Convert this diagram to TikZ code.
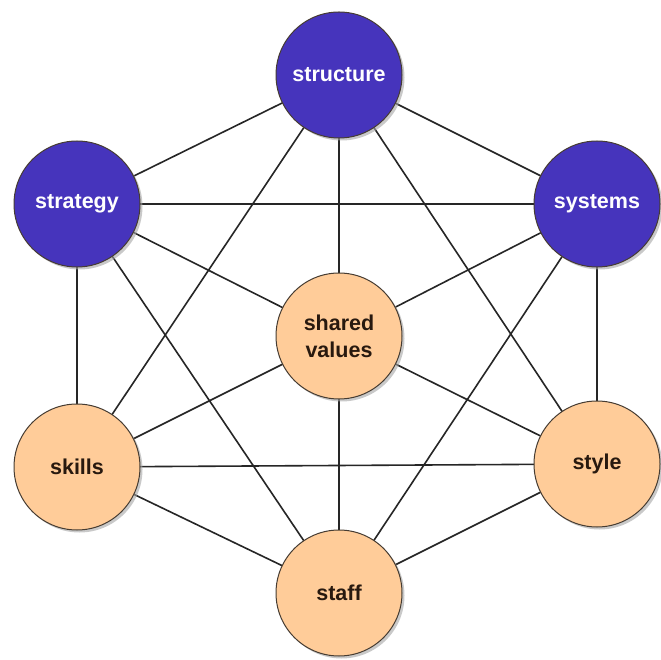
\documentclass[tikz,border=0pt]{standalone}
\usepackage{fontspec}
\setmainfont{Liberation Sans}
\usetikzlibrary{shadows}
\definecolor{bluefill}{RGB}{70,52,188}
\definecolor{orangefill}{RGB}{255,204,153}
\definecolor{rimcol}{RGB}{70,60,50}
\definecolor{darktext}{RGB}{40,25,15}
\begin{document}
\begin{tikzpicture}[x=1pt,y=1pt,
  base/.style={circle, minimum size=126pt, inner sep=0pt, draw=rimcol, line width=1pt,
    align=center, font=\fontsize{21.5}{27}\selectfont\bfseries,
    drop shadow={shadow xshift=2.5pt, shadow yshift=-2.5pt, fill=black!35, opacity=0.6}},
  bluec/.style={base, fill=bluefill, text=white},
  orangec/.style={base, fill=orangefill, text=darktext},
  link/.style={line width=1.6pt, draw=black!85}]
\useasboundingbox (0,0) rectangle (661,659);
\fill[white] (0,0) rectangle (661,659);
\coordinate (pstructure) at (339,584);
\coordinate (pstrategy) at (77,455);
\coordinate (psystems) at (597,455);
\coordinate (pshared) at (339,323);
\coordinate (pskills) at (77,192);
\coordinate (pstyle) at (597,195);
\coordinate (pstaff) at (339,66);
\draw[link] (pstructure) -- (pstrategy);
\draw[link] (pstructure) -- (psystems);
\draw[link] (pstructure) -- (pshared);
\draw[link] (pstructure) -- (pskills);
\draw[link] (pstructure) -- (pstyle);
\draw[link] (pstrategy) -- (psystems);
\draw[link] (pstrategy) -- (pshared);
\draw[link] (pstrategy) -- (pskills);
\draw[link] (pstrategy) -- (pstaff);
\draw[link] (psystems) -- (pshared);
\draw[link] (psystems) -- (pstyle);
\draw[link] (psystems) -- (pstaff);
\draw[link] (pshared) -- (pskills);
\draw[link] (pshared) -- (pstyle);
\draw[link] (pshared) -- (pstaff);
\draw[link] (pskills) -- (pstyle);
\draw[link] (pskills) -- (pstaff);
\draw[link] (pstyle) -- (pstaff);
\node[bluec] (structure) at (pstructure) {structure};
\node[bluec] (strategy) at (pstrategy) {strategy};
\node[bluec] (systems) at (psystems) {systems};
\node[orangec] (shared) at (pshared) {shared\\values};
\node[orangec] (skills) at (pskills) {skills};
\node[orangec] (style) at (pstyle) {style};
\node[orangec] (staff) at (pstaff) {staff};
\end{tikzpicture}
\end{document}
